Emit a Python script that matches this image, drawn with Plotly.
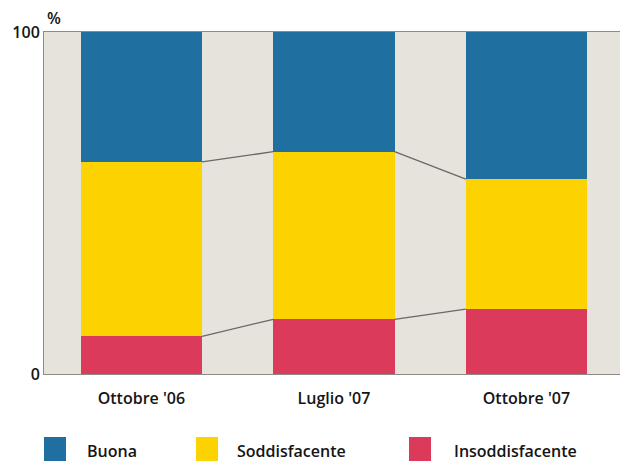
import plotly.graph_objects as go

# Survey periods and answer shares (percent, stacked to 100)
periodi = ["Ottobre '06", "Luglio '07", "Ottobre '07"]
insoddisfacente = [11, 16, 19]
soddisfacente = [51, 49, 38]
buona = [38, 35, 43]

serie = [
    ("Insoddisfacente", insoddisfacente, "#dc3a5a"),
    ("Soddisfacente", soddisfacente, "#fcd200"),
    ("Buona", buona, "#1f6fa1"),
]
legenda = ["Buona", "Soddisfacente", "Insoddisfacente"]
colori = {nome: col for nome, _, col in serie}

W, H = 620, 461
ML, MR, MT, MB = 44, 0, 32, 87
PW, PH = W - ML - MR, H - MT - MB
BAR_W = 0.63
FONT = "Open Sans"
TXT = dict(family=FONT, size=16, color="#141414", weight=600)

x = list(range(len(periodi)))

fig = go.Figure()
for nome, valori, col in serie:
    fig.add_trace(go.Bar(
        x=x, y=valori, name=nome, width=BAR_W,
        marker=dict(color=col, line=dict(width=0)),
        showlegend=False, hoverinfo="y+name",
    ))

# Connector lines between the bars at each segment boundary
livelli_red = insoddisfacente
livelli_yel = [a + b for a, b in zip(insoddisfacente, soddisfacente)]
for livelli in (livelli_red, livelli_yel):
    for i in range(len(periodi) - 1):
        fig.add_trace(go.Scatter(
            x=[x[i] + BAR_W / 2, x[i + 1] - BAR_W / 2],
            y=[livelli[i], livelli[i + 1]],
            mode="lines", line=dict(color="#6b6763", width=1.3),
            showlegend=False, hoverinfo="skip",
        ))


def px_x(p):
    return (p - ML) / PW


def px_y(p):
    return (H - MB - p) / PH


# Legend drawn below the axis
legend_sq = [44, 196, 409]
legend_tx = [85, 235, 452]
shapes = []
annotations = []
for nome, sx, tx in zip(legenda, legend_sq, legend_tx):
    shapes.append(dict(
        type="rect", xref="paper", yref="paper",
        x0=px_x(sx), x1=px_x(sx + 22), y0=px_y(437), y1=px_y(466),
        fillcolor=colori[nome], line=dict(width=0),
    ))
    annotations.append(dict(
        xref="paper", yref="paper", x=px_x(tx), y=px_y(451),
        text=nome, showarrow=False, xanchor="left", yanchor="middle",
        font=TXT,
    ))

annotations.append(dict(
    xref="paper", yref="paper", x=px_x(54), y=px_y(18),
    text="%", showarrow=False, xanchor="center", yanchor="middle",
    font=TXT,
))

fig.update_layout(
    width=W, height=H,
    margin=dict(l=ML, r=MR, t=MT, b=MB, pad=0),
    barmode="stack",
    paper_bgcolor="white",
    plot_bgcolor="#e6e2dc",
    shapes=shapes,
    annotations=annotations,
    font=TXT,
    xaxis=dict(
        range=[-0.506, 2.486], tickvals=x, ticktext=periodi,
        showgrid=False, zeroline=False, ticks="",
        ticklabelstandoff=10,
        showline=True, linecolor="#8f8a85", linewidth=1, mirror=True,
        tickfont=TXT,
        fixedrange=True,
    ),
    yaxis=dict(
        range=[0, 100], tickvals=[0, 100], ticktext=["0", "100"],
        showgrid=False, zeroline=False, ticks="",
        showline=True, linecolor="#8f8a85", linewidth=1, mirror=True,
        tickfont=TXT,
        fixedrange=True,
    ),
)

fig.write_html("out.html")
